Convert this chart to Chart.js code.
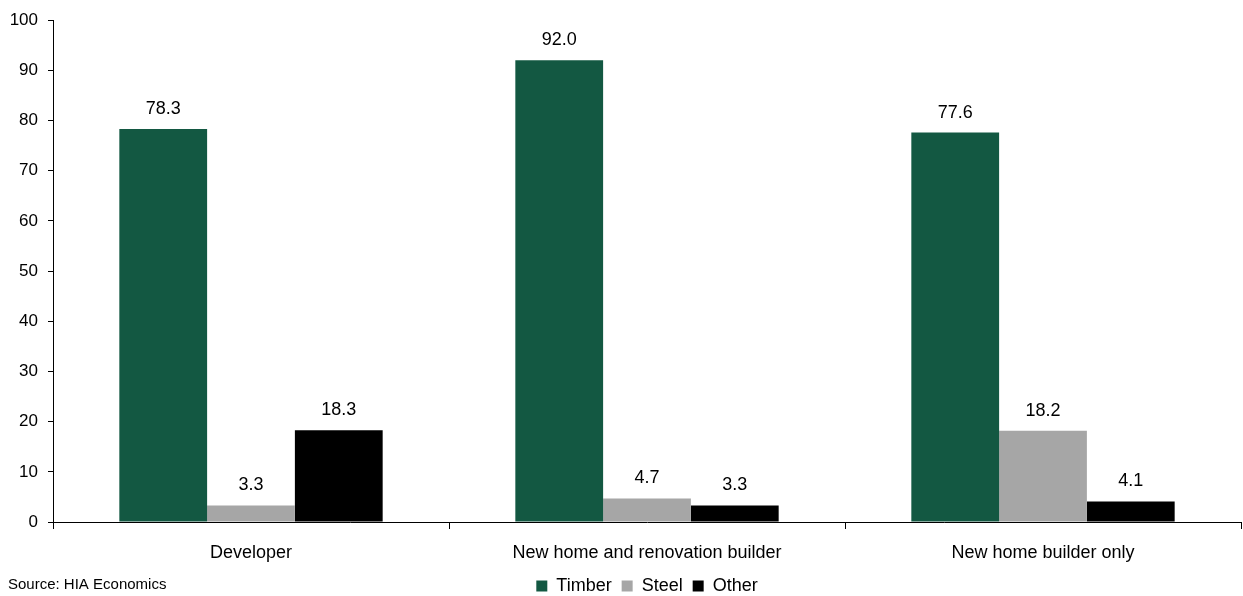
<!DOCTYPE html>
<html>
<head>
<meta charset="utf-8">
<script src="https://cdn.jsdelivr.net/npm/chart.js@4/dist/chart.umd.min.js"></script>
<style>
  html, body { margin: 0; padding: 0; background: #fff; }
  #wrap { width: 1243px; height: 596px; position: relative; }
</style>
</head>
<body>
<div id="wrap"><canvas id="c" width="1243" height="596"></canvas></div>
<script>
const categories = ['Developer', 'New home and renovation builder', 'New home builder only'];
const timber = [78.3, 92.0, 77.6];
const steel = [3.3, 4.7, 18.2];
const other = [18.3, 3.3, 4.1];
const yTicks = [0, 10, 20, 30, 40, 50, 60, 70, 80, 90, 100];
const sourceNote = 'Source: HIA Economics';

const FONT = "'Liberation Sans Narrow', 'Arial Narrow', 'Liberation Sans', Arial, sans-serif";

// Value labels above every bar
const valueLabels = {
  id: 'valueLabels',
  afterDatasetsDraw(chart) {
    const ctx = chart.ctx;
    ctx.save();
    ctx.font = '18px ' + FONT;
    ctx.fillStyle = '#000';
    ctx.textAlign = 'center';
    ctx.textBaseline = 'bottom';
    chart.data.datasets.forEach((ds, i) => {
      chart.getDatasetMeta(i).data.forEach((bar, j) => {
        ctx.fillText(ds.data[j].toFixed(1), bar.x, bar.y - 11);
      });
    });
    ctx.restore();
  }
};

// Source line in the bottom-left corner
const sourceText = {
  id: 'sourceText',
  afterDraw(chart) {
    const ctx = chart.ctx;
    ctx.save();
    ctx.font = '15px ' + FONT;
    ctx.fillStyle = '#000';
    ctx.textAlign = 'left';
    ctx.textBaseline = 'middle';
    ctx.fillText(sourceNote, 8, 585);
    ctx.restore();
  }
};

new Chart(document.getElementById('c'), {
  type: 'bar',
  data: {
    labels: categories,
    datasets: [
      { label: 'Timber', data: timber, backgroundColor: '#135842' },
      { label: 'Steel', data: steel, backgroundColor: '#a6a6a6' },
      { label: 'Other', data: other, backgroundColor: '#000000' }
    ]
  },
  options: {
    responsive: false,
    animation: false,
    devicePixelRatio: 1,
    layout: { padding: { top: 20, right: 2, left: 0, bottom: -9 } },
    datasets: { bar: { categoryPercentage: 0.665, barPercentage: 1.0 } },
    plugins: {
      legend: {
        position: 'bottom',
        fullSize: false,
        labels: {
          font: { family: FONT, size: 18, lineHeight: 1 },
          color: '#000',
          boxWidth: 11,
          boxHeight: 11,
          padding: 10
        }
      },
      tooltip: { enabled: false }
    },
    scales: {
      x: {
        offset: true,
        border: { display: true, color: '#000', width: 1 },
        grid: { display: true, drawOnChartArea: false, color: '#000', tickLength: 7, offset: true },
        ticks: { font: { family: FONT, size: 18 }, color: '#000', padding: 13 },
        afterFit(s) { s.height = 45; }
      },
      y: {
        min: 0,
        max: 100,
        afterBuildTicks(s) { s.ticks = yTicks.map(v => ({ value: v })); },
        border: { display: true, color: '#000', width: 1 },
        grid: { display: true, drawOnChartArea: false, color: '#000', tickLength: 5 },
        ticks: { font: { family: FONT, size: 17 }, color: '#000', padding: 10 },
        afterFit(s) { s.width = 53; }
      }
    }
  },
  plugins: [valueLabels, sourceText]
});
</script>
</body>
</html>
